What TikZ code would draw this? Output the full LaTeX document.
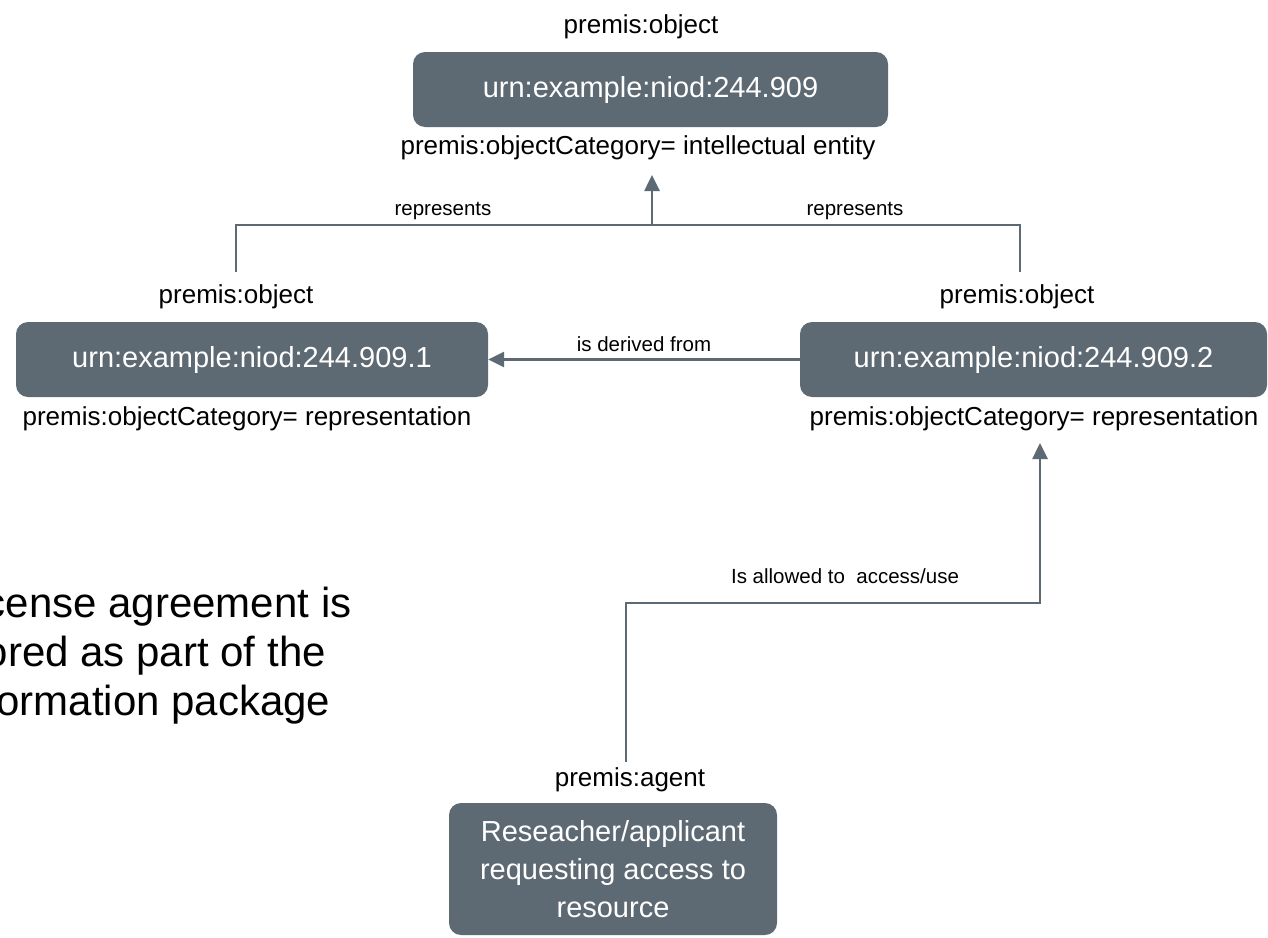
\documentclass[tikz,border=0pt]{standalone}
\usepackage{fontspec}
\setmainfont{Liberation Sans}
\usetikzlibrary{arrows.meta}
\definecolor{boxgray}{HTML}{5E6A73}
\tikzset{
  entity/.style={draw=none, fill=boxgray, rounded corners=12pt, text=white, align=center,
    font=\fontsize{29}{38}\selectfont, inner sep=0pt},
  lbl/.style={font=\fontsize{26}{31}\selectfont, text=black, inner sep=0pt},
  rel/.style={font=\fontsize{20.5}{24}\selectfont, text=black, inner sep=0pt},
  conn/.style={draw=boxgray, line width=2.6pt},
  arr/.style={conn, -{Triangle[width=15pt,length=16pt]}},
}
\begin{document}
\begin{tikzpicture}[x=1pt,y=-1pt]
\useasboundingbox (0,0) rectangle (1268,937);
\clip (0,0) rectangle (1268,937);
% boxes
\node[entity, minimum width=475pt, minimum height=75pt] (top) at (650.5,89.5) {urn:example:niod:244.909};
\node[entity, minimum width=472pt, minimum height=75pt] (left) at (252,359.5) {urn:example:niod:244.909.1};
\node[entity, minimum width=467pt, minimum height=75pt] (right) at (1033.5,359.5) {urn:example:niod:244.909.2};
\node[entity, minimum width=328pt, minimum height=132pt] (agent) at (613,869) {Reseacher/applicant\\requesting access to\\resource};
% labels
\node[lbl] (topobj) at (641,27) {premis:object};
\node[lbl] (topcat) at (638,148) {premis:objectCategory= intellectual entity};
\node[lbl] (leftobj) at (236,297) {premis:object};
\node[lbl] (rightobj) at (1017,297) {premis:object};
\node[lbl] (leftcat) at (247,419) {premis:objectCategory= representation};
\node[lbl] (rightcat) at (1034,419) {premis:objectCategory= representation};
\node[lbl] (agentlbl) at (630,780) {premis:agent};
% left text
\node[anchor=west, align=left, font=\fontsize{42}{49}\selectfont, inner sep=0pt] (lic) at (-48,656)
  {License agreement is\\stored as part of the\\information package};
% connectors
\coordinate (tjoin) at (652,225);
\coordinate (ttip) at (652,175);
\coordinate (lup) at (236,272);
\coordinate (lcorner) at (236,225);
\coordinate (rup) at (1020,272);
\coordinate (rcorner) at (1020,225);
\draw[conn] (lup) -- (lcorner) -- (rcorner) -- (rup);
\draw[arr] (tjoin) -- (ttip);
\node[rel] (rep1) at (443,211) {represents};
\node[rel] (rep2) at (855,211) {represents};
\draw[arr] (right.west) -- (left.east) node[rel, midway, above=7pt] (der) {is derived from};
\coordinate (astart) at (626,762);
\coordinate (acorner1) at (626,603);
\coordinate (acorner2) at (1040,603);
\coordinate (atip) at (1040,443);
\draw[arr] (astart) -- (acorner1) -- (acorner2) -- (atip);
\node[rel] (allow) at (845,576) {Is allowed to \ access/use};
\end{tikzpicture}
\end{document}
